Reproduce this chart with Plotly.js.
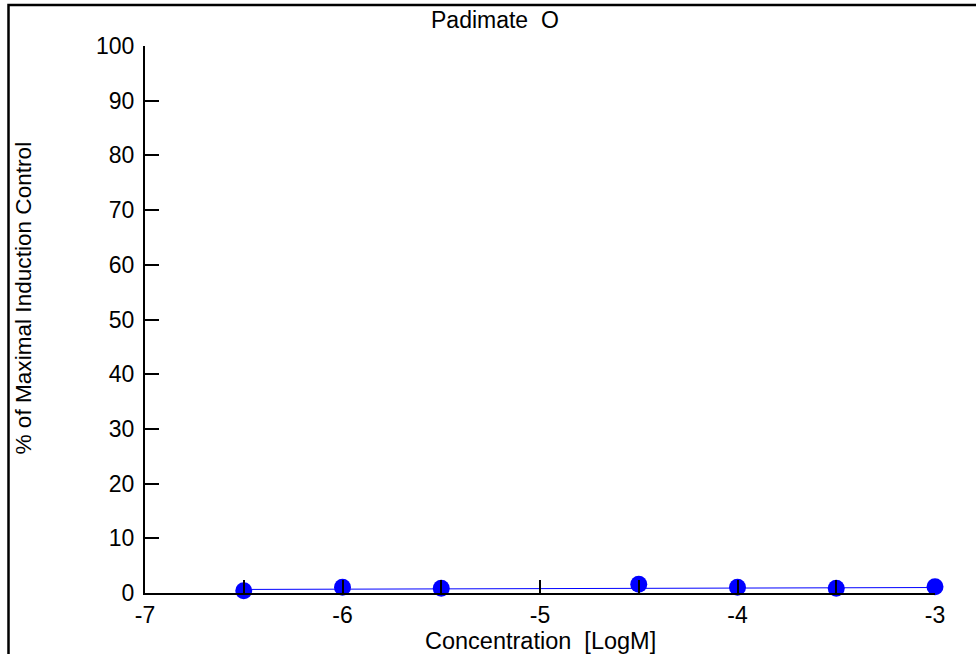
<!DOCTYPE html>
<html>
<head>
<meta charset="utf-8">
<script src="https://cdn.plot.ly/plotly-3.0.1.min.js"></script>
<style>
  html, body { margin: 0; padding: 0; background: #ffffff; }
  #chart { width: 976px; height: 654px; }
</style>
</head>
<body>
<div id="chart"></div>
<script>
// Concentration-response for Padimate O
const concentration = [-6.5, -6, -5.5, -5, -4.5, -4, -3.5, -3];
const induction = [0.42, 1.04, 0.86, -0.05, 1.59, 1.04, 0.86, 1.15];

// fitted curve through the responses
const fitConcentration = [-6.5, -6, -5.5, -5, -4.5, -4, -3.5, -3];
const fitInduction = [0.65, 0.72, 0.78, 0.83, 0.88, 0.92, 0.96, 1.0];

// axis ticks
const xTickVals = [-7, -6.5, -6, -5.5, -5, -4.5, -4, -3.5, -3];
const xTickText = ['-7', '', '-6', '', '-5', '', '-4', '', '-3'];
const yTickVals = [0, 10, 20, 30, 40, 50, 60, 70, 80, 90, 100];

const FONT = 'Liberation Sans, Arial, Helvetica, sans-serif';

const traces = [
  {
    x: fitConcentration,
    y: fitInduction,
    type: 'scatter',
    mode: 'lines',
    line: { color: '#0000ff', width: 1 },
    hoverinfo: 'skip',
    cliponaxis: false
  },
  {
    x: concentration,
    y: induction,
    type: 'scatter',
    mode: 'markers',
    marker: { color: '#0000ff', size: 17, line: { width: 0 } },
    cliponaxis: false
  }
];

// plot area in pixels: left 145, right 935, top 46, bottom 593
const W = 976, H = 654, L = 145, R = 41, T = 46, B = 61;
const pw = W - L - R, ph = H - T - B;
const px = p => (p - L) / pw;
const py = p => (H - B - p) / ph;

const layout = {
  width: W,
  height: H,
  margin: { l: L, r: R, t: T, b: B, pad: 0 },
  paper_bgcolor: '#ffffff',
  plot_bgcolor: '#ffffff',
  showlegend: false,
  font: { family: FONT, size: 23, color: '#000000' },
  xaxis: {
    range: [-7, -3],
    autorange: false,
    tickmode: 'array',
    tickvals: xTickVals,
    ticktext: xTickText,
    ticks: 'inside',
    ticklen: 13,
    tickwidth: 2,
    tickcolor: '#000000',
    showline: true,
    linecolor: '#000000',
    linewidth: 2,
    showgrid: false,
    zeroline: false,
    tickfont: { family: FONT, size: 23, color: '#000000' },
    ticklabelstandoff: 0
  },
  yaxis: {
    range: [0, 100],
    autorange: false,
    tickmode: 'array',
    tickvals: yTickVals,
    ticks: 'inside',
    ticklen: 14,
    tickwidth: 2,
    tickcolor: '#000000',
    showline: true,
    linecolor: '#000000',
    linewidth: 2,
    showgrid: false,
    zeroline: false,
    tickfont: { family: FONT, size: 23, color: '#000000' },
    ticklabelstandoff: 4
  },
  shapes: [
    {
      type: 'rect',
      xref: 'paper', yref: 'paper',
      x0: px(8.5), x1: px(1100),
      y0: py(800), y1: py(5),
      line: { color: '#000000', width: 2.5 },
      fillcolor: 'rgba(0,0,0,0)',
      layer: 'below'
    }
  ],
  annotations: [
    {
      text: 'Padimate  O',
      xref: 'paper', yref: 'paper',
      x: px(494.5), y: py(20.5),
      xanchor: 'center', yanchor: 'middle',
      showarrow: false,
      font: { family: FONT, size: 23, color: '#000000' }
    },
    {
      text: 'Concentration  [LogM]',
      xref: 'paper', yref: 'paper',
      x: px(540), y: py(641),
      xanchor: 'center', yanchor: 'middle',
      showarrow: false,
      font: { family: FONT, size: 23.5, color: '#000000' }
    },
    {
      text: '% of Maximal Induction Control',
      xref: 'paper', yref: 'paper',
      x: px(23), y: py(298.5),
      xanchor: 'center', yanchor: 'middle',
      textangle: -90,
      showarrow: false,
      font: { family: FONT, size: 22.6, color: '#000000' }
    }
  ]
};

Plotly.newPlot('chart', traces, layout, { displayModeBar: false, staticPlot: true });
</script>
</body>
</html>
